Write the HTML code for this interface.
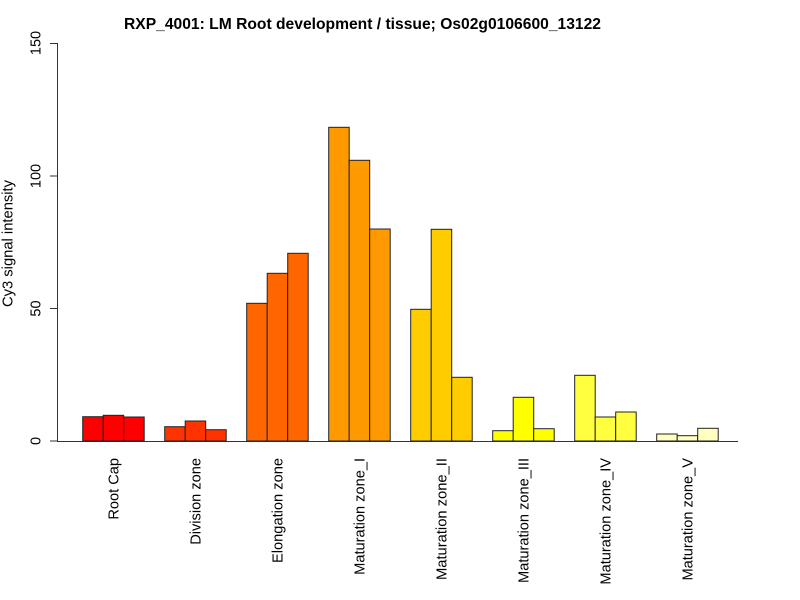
<!DOCTYPE html>
<html>
<head>
<meta charset="utf-8">
<style>
html,body{margin:0;padding:0;background:#fff;}
svg{display:block;}
text{font-family:"Liberation Sans",Arial,sans-serif;fill:#000;}
</style>
</head>
<body>
<svg width="800" height="600" viewBox="0 0 800 600" xmlns="http://www.w3.org/2000/svg">
<rect width="800" height="600" fill="#fff"/>
<!-- title -->
<text x="124" y="29" font-size="16" font-weight="bold" textLength="477" lengthAdjust="spacingAndGlyphs">RXP_4001: LM Root development / tissue; Os02g0106600_13122</text>
<!-- y axis -->
<g stroke="#333" stroke-width="1" fill="none">
<line x1="57.5" y1="43" x2="57.5" y2="441"/>
<line x1="50" y1="43.5" x2="57.5" y2="43.5"/>
<line x1="50" y1="176" x2="57.5" y2="176"/>
<line x1="50" y1="308.5" x2="57.5" y2="308.5"/>
<line x1="50" y1="441" x2="57.5" y2="441"/>
<line x1="57" y1="441.5" x2="738" y2="441.5"/>
</g>
<g font-size="14.5" text-anchor="middle">
<text transform="translate(40.5,43) rotate(-90)">150</text>
<text transform="translate(40.5,176) rotate(-90)">100</text>
<text transform="translate(40.5,308.5) rotate(-90)">50</text>
<text transform="translate(40.5,441) rotate(-90)">0</text>
<text transform="translate(12.5,243.5) rotate(-90)" textLength="127" lengthAdjust="spacingAndGlyphs">Cy3 signal intensity</text>
</g>
<!-- bars -->
<g stroke="#222" stroke-width="1">
<g fill="#FF0000">
<rect x="82.7" y="416.7" width="20.5" height="24.3"/>
<rect x="103.2" y="415.3" width="20.5" height="25.7"/>
<rect x="123.7" y="417" width="20.5" height="24"/>
</g>
<g fill="#FF3300">
<rect x="164.7" y="426.7" width="20.5" height="14.3"/>
<rect x="185.2" y="421" width="20.5" height="20"/>
<rect x="205.7" y="429.7" width="20.5" height="11.3"/>
</g>
<g fill="#FF6600">
<rect x="246.7" y="303.3" width="20.5" height="137.7"/>
<rect x="267.2" y="273.3" width="20.5" height="167.7"/>
<rect x="287.7" y="253.3" width="20.5" height="187.7"/>
</g>
<g fill="#FF9900">
<rect x="328.7" y="127.3" width="20.5" height="313.7"/>
<rect x="349.2" y="160.3" width="20.5" height="280.7"/>
<rect x="369.7" y="229" width="20.5" height="212"/>
</g>
<g fill="#FFCC00">
<rect x="410.7" y="309.3" width="20.5" height="131.7"/>
<rect x="431.2" y="229.3" width="20.5" height="211.7"/>
<rect x="451.7" y="377.3" width="20.5" height="63.7"/>
</g>
<g fill="#FFFF00">
<rect x="492.7" y="430.7" width="20.5" height="10.3"/>
<rect x="513.2" y="397.3" width="20.5" height="43.7"/>
<rect x="533.7" y="428.7" width="20.5" height="12.3"/>
</g>
<g fill="#FFFF40">
<rect x="574.7" y="375.3" width="20.5" height="65.7"/>
<rect x="595.2" y="417" width="20.5" height="24"/>
<rect x="615.7" y="412" width="20.5" height="29"/>
</g>
<g fill="#FFFFBF">
<rect x="656.7" y="434" width="20.5" height="7"/>
<rect x="677.2" y="435.7" width="20.5" height="5.3"/>
<rect x="697.7" y="428.3" width="20.5" height="12.7"/>
</g>
</g>
<!-- x labels -->
<g font-size="14.6" text-anchor="end">
<text transform="translate(118.5,458) rotate(-90)">Root Cap</text>
<text transform="translate(200.5,458) rotate(-90)">Division zone</text>
<text transform="translate(282.5,458) rotate(-90)" textLength="105" lengthAdjust="spacingAndGlyphs">Elongation zone</text>
<text transform="translate(364.5,458) rotate(-90)">Maturation zone_I</text>
<text transform="translate(446.5,458) rotate(-90)" textLength="122" lengthAdjust="spacingAndGlyphs">Maturation zone_II</text>
<text transform="translate(528.5,458) rotate(-90)">Maturation zone_III</text>
<text transform="translate(610.5,458) rotate(-90)">Maturation zone_IV</text>
<text transform="translate(692.5,458) rotate(-90)">Maturation zone_V</text>
</g>
</svg>
</body>
</html>
